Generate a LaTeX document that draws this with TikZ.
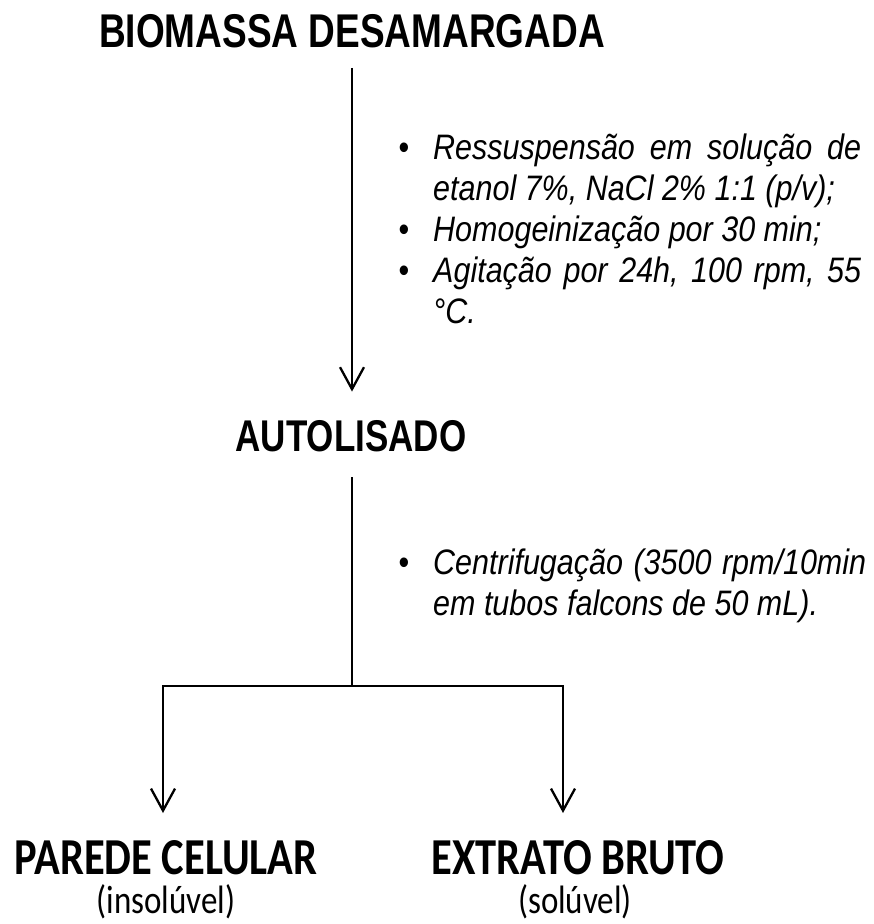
\documentclass[tikz,border=0pt]{standalone}
\usepackage{fontspec}
\usepackage{graphicx}
\usetikzlibrary{arrows.meta}
\newfontfamily\arialfont{Liberation Sans}
\newfontfamily\calibrifont{Carlito}
\newcommand{\alto}[2][1.25]{\scalebox{1}[#1]{#2}}
\newcommand{\marca}{\noindent\llap{\upshape\textbullet\hspace{24pt}}}

\tikzset{
  titulo/.style={inner sep=0pt, font=\arialfont\bfseries\fontsize{37}{37}\selectfont},
  produto/.style={inner sep=0pt, font=\calibrifont\bfseries\fontsize{42.5}{42.5}\selectfont},
  fase/.style={inner sep=0pt, font=\calibrifont\fontsize{33}{33}\selectfont},
  passos/.style={inner sep=0pt, anchor=base west, font=\arialfont\itshape\fontsize{30.5}{35.5}\selectfont},
  linha/.style={line width=2.3pt},
  seta/.style={linha, -{Straight Barb[length=22pt,width=24pt]}}
}

\begin{document}
\begin{tikzpicture}[x=1pt,y=-1pt]
\useasboundingbox (0,0) rectangle (874,924);
% etapas
\node[titulo] (bio) at (352,31) {\alto[1.28]{BIOMASSA DESAMARGADA}};
\node[titulo, font=\arialfont\bfseries\fontsize{35}{35}\selectfont] (auto) at (351,436.5) {\alto[1.27]{AUTOLISADO}};
\node[produto] (parede) at (166,858) {\alto[1.22]{PAREDE CELULAR}};
\node[fase] (insol) at (166,902) {\alto[1.2]{(insolúvel)}};
\node[produto] (extrato) at (578,858) {\alto[1.22]{EXTRATO BRUTO}};
\node[fase] (sol) at (575,902) {\alto[1.2]{(solúvel)}};
% condicoes
\node[passos] (cond1) at (433,159) {\alto[1.16]{\parbox[t]{428pt}{%
  \marca Ressuspensão em solução de\linebreak etanol 7\%, NaCl 2\% 1:1 (p/v);\par
  \marca Homogeinização por 30 min;\par
  \marca Agitação por 24h, 100 rpm, 55\linebreak °C.}}};
\node[passos] (cond2) at (433,574) {\alto[1.16]{\parbox[t]{433pt}{%
  \marca Centrifugação (3500 rpm/10min\linebreak em tubos falcons de 50 mL).}}};
% setas
\coordinate (ramo) at (352,686);
\coordinate (esq) at (163,813);
\coordinate (dir) at (563,813);
\draw[seta] ([yshift=-20pt]bio.south) -- ([yshift=29pt]auto.north -| bio.south);
\draw[linha] ([yshift=-25pt]auto.south -| ramo) -- (ramo);
\draw[seta] (ramo) -| (esq);
\draw[seta] (ramo) -| (dir);
\end{tikzpicture}
\end{document}
